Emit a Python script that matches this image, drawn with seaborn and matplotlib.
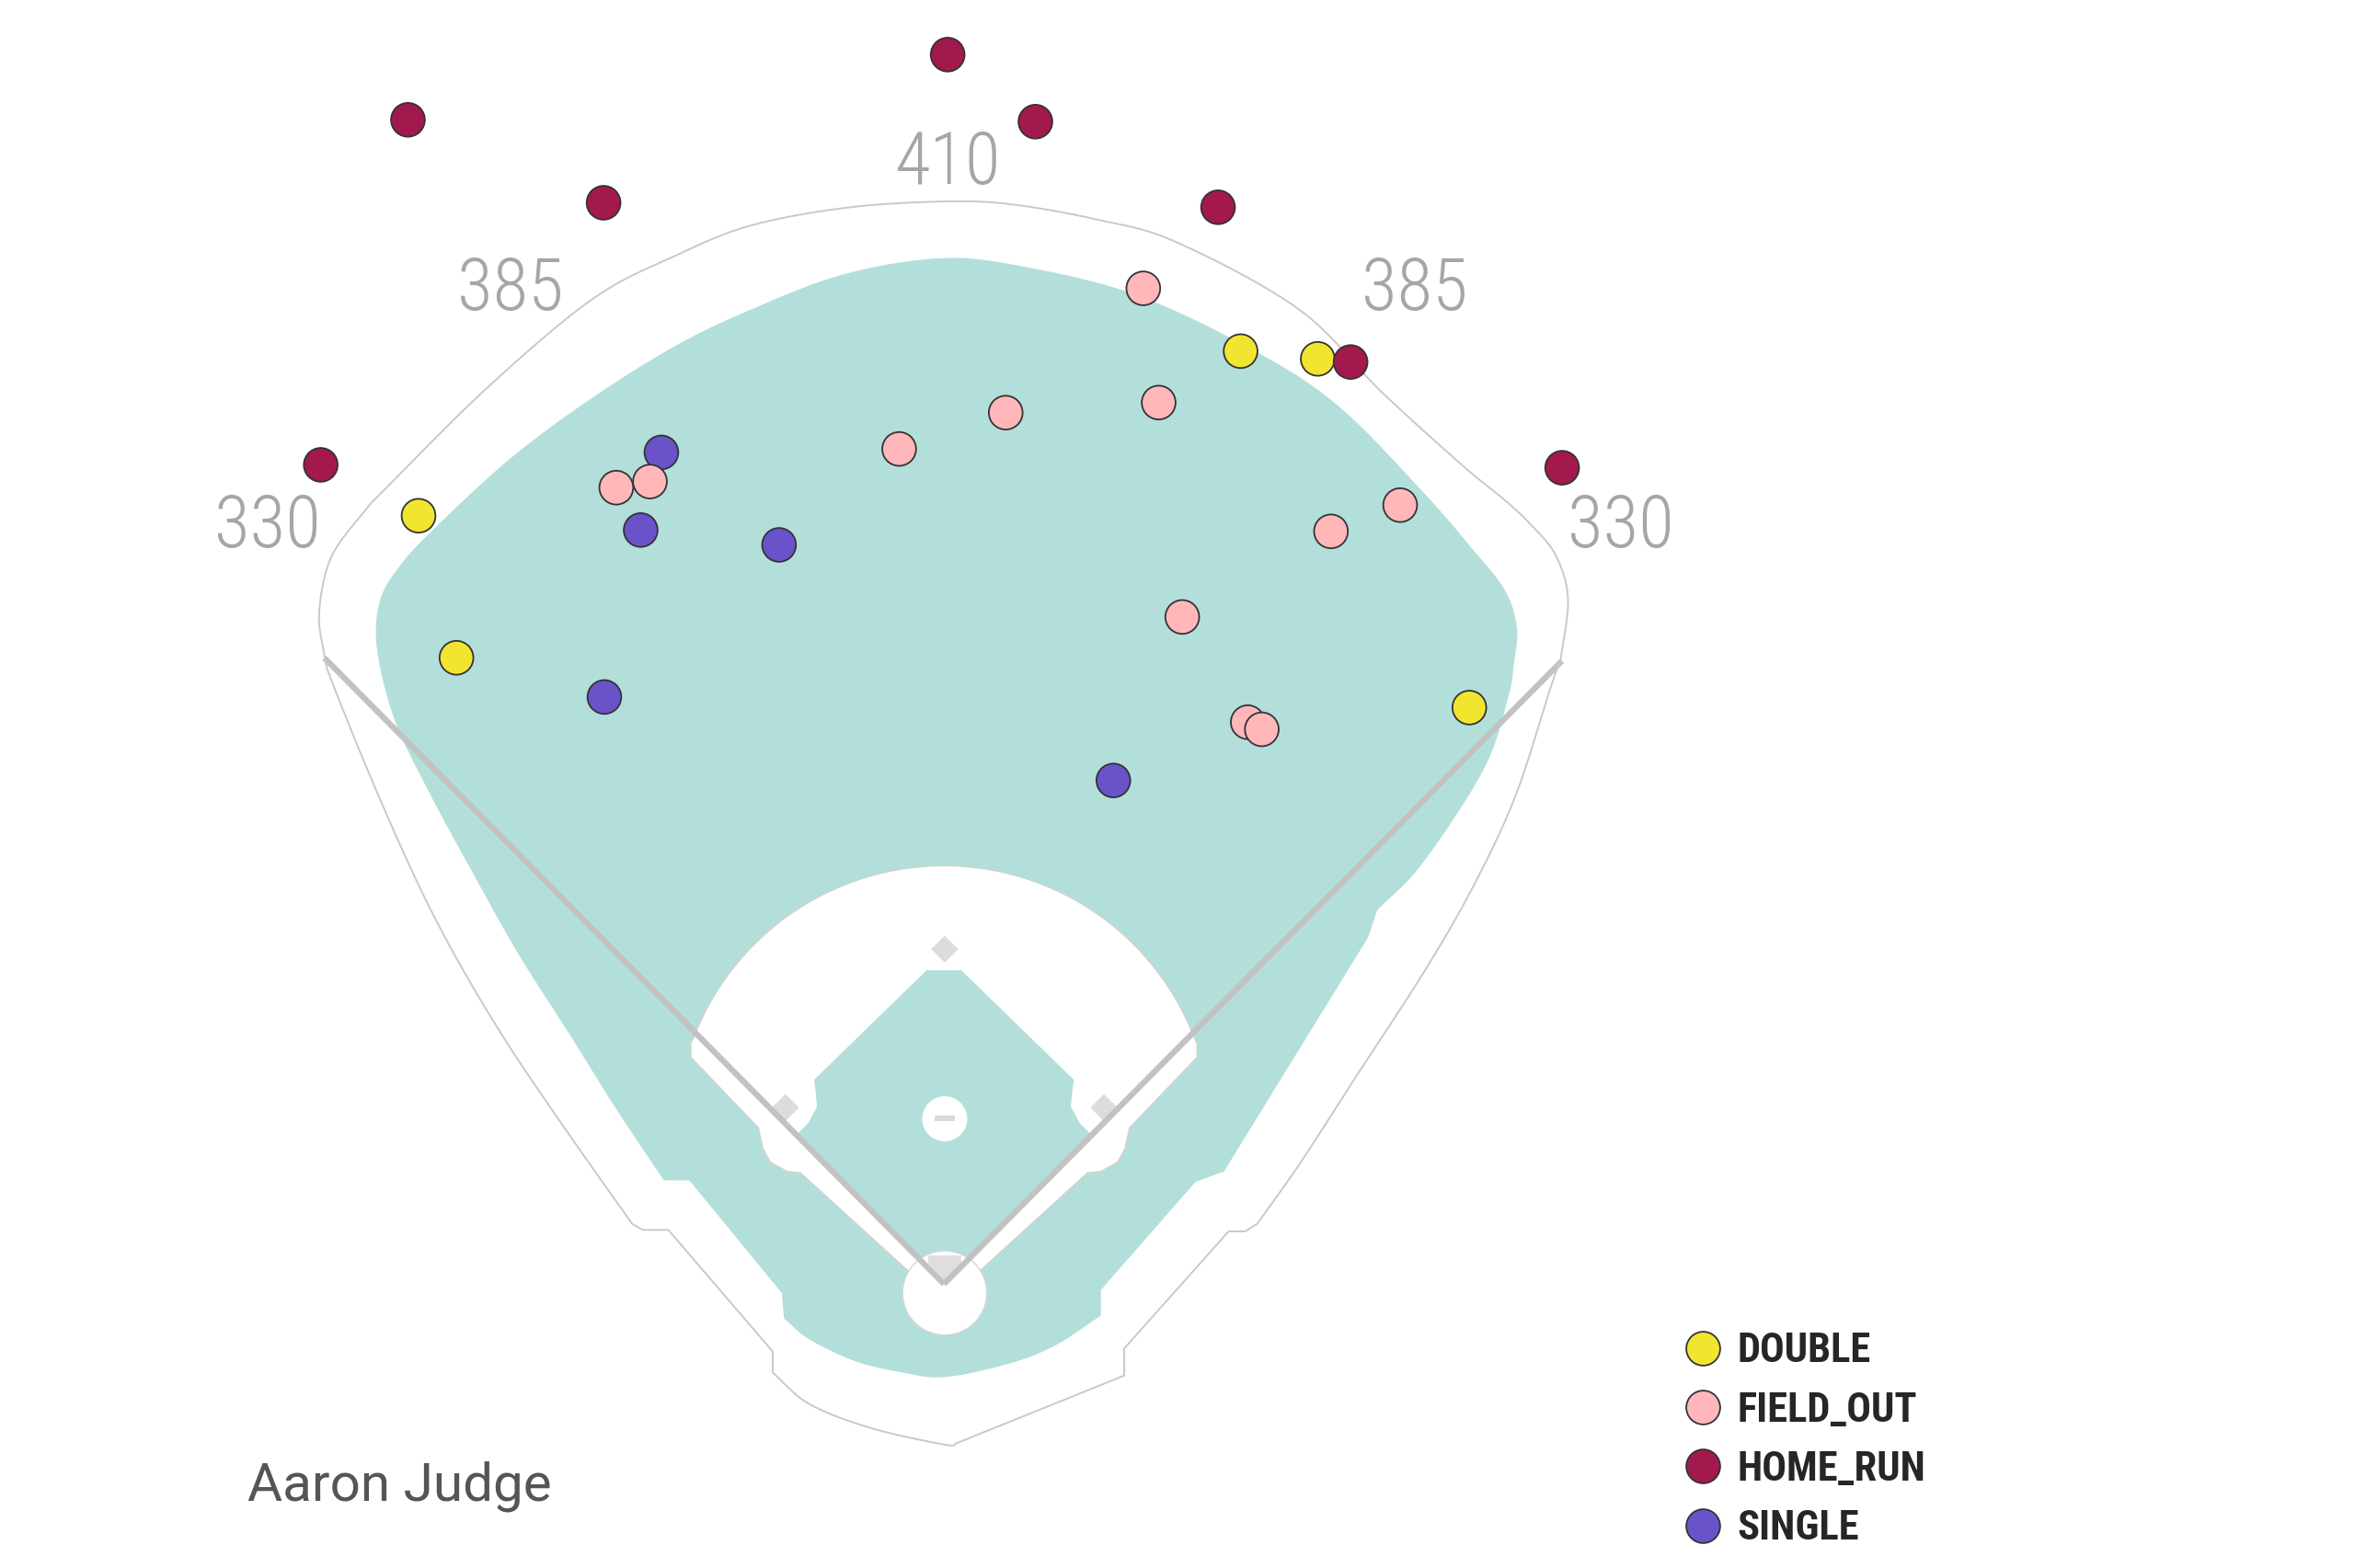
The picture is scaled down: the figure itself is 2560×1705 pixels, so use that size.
import numpy as np
import pandas as pd
import matplotlib
matplotlib.use("Agg")
import matplotlib.pyplot as plt
import seaborn as sns
from matplotlib import font_manager
from matplotlib.font_manager import FontProperties
from matplotlib.patches import Polygon, Circle
from matplotlib.lines import Line2D

# ---------------- data (feet from home plate: x to the right, y toward CF) -------------
single_x = [-106.6, -114.4, -62.2, -128.1, 63.9]
single_y = [313.8, 284.5, 278.9, 221.5, 190.0]

double_x = [-198.2, -183.9, 111.9, 141.0, 198.2]
double_y = [289.9, 236.3, 352.0, 349.1, 217.5]

field_out_x = [75.2, 23.3, 81.0, -16.9, -123.6, -110.9, 172.1, 146.0, 89.9, 114.6, 119.9]
field_out_y = [375.7, 328.8, 332.6, 315.1, 300.5, 302.8, 293.9, 284.0, 251.7, 212.0, 209.3]

home_run_x = [1.4, -202.2, 34.5, -128.4, 103.4, 153.4, -235.1, 233.2]
home_run_y = [463.9, 439.3, 438.6, 408.0, 406.3, 347.9, 309.1, 308.0]

event_order = ["DOUBLE", "FIELD_OUT", "HOME_RUN", "SINGLE"]
event_colors = ["#f2e530", "#ffb7ba", "#a3194d", "#6a52c9"]

wall_labels = ["330", "385", "410", "385", "330"]
player_name = "Aaron Judge"

# ---------------- fonts ----------------
sns.set_theme(style="white")
plt.rcParams["font.family"] = ["Roboto", "DejaVu Sans"]
names = {f.name for f in font_manager.fontManager.ttflist}
cond_fam, cond_stretch = None, "normal"
for c in ["Roboto Condensed", "Liberation Sans Narrow", "Open Sans Condensed",
          "Noto Sans Condensed", "DejaVu Sans Condensed"]:
    if c in names:
        cond_fam = c
        break
if cond_fam is None:
    for f in font_manager.fontManager.ttflist:
        if f.name in ("Roboto", "Noto Sans", "Open Sans", "DejaVu Sans", "Lato", "Inter") and \
                str(f.stretch) in ("condensed", "semi-condensed", "extra-condensed"):
            cond_fam, cond_stretch = f.name, f.stretch
            break
if cond_fam is None:
    cond_fam = "Roboto"

# ---------------- geometry helpers (drawing of the field) ----------------
H0 = (628.5, 855.0)
SC = 1.765


def P(pts):
    a = np.asarray(pts, float)
    return np.column_stack([(a[:, 0] - H0[0]) / SC, (H0[1] - a[:, 1]) / SC])


def smooth(pts, n=14):
    p = np.asarray(pts, float)
    if len(p) < 3:
        return p
    ext = np.vstack([2 * p[0] - p[1], p, 2 * p[-1] - p[-2]])
    out = []
    for i in range(1, len(ext) - 2):
        p0, p1, p2, p3 = ext[i - 1], ext[i], ext[i + 1], ext[i + 2]
        for t in np.linspace(0, 1, n, endpoint=False):
            t2, t3 = t * t, t * t * t
            out.append(0.5 * ((2 * p1) + (-p0 + p2) * t + (2 * p0 - 5 * p1 + 4 * p2 - p3) * t2
                              + (-p0 + 3 * p1 - 3 * p2 + p3) * t3))
    out.append(p[-1])
    return np.array(out)


def mirror(pts):
    return [(2 * H0[0] - x, y) for x, y in pts]


TEAL = "#b3dfdb"
LINE = "#c9c9c9"

fig = plt.figure(figsize=(25.6, 17.05), dpi=100)
ax = fig.add_axes([0, 0, 1, 1])
ax.set_xlim((0 - H0[0]) / SC, (1568 - H0[0]) / SC)
ax.set_ylim((H0[1] - 1044) / SC, H0[1] / SC)
ax.set_aspect("equal")
ax.axis("off")

# big grass area
teal = np.vstack([
    smooth([(442, 786), (410, 738), (380, 690), (345, 635), (318, 587), (287, 530), (263, 480),
            (251, 432), (253, 400), (266, 377), (289, 352), (340, 305), (394, 265), (450, 230),
            (500, 206), (560, 183), (623, 172), (674, 176), (756, 196), (838, 235), (892, 271),
            (947, 327), (980, 365), (1002, 393), (1010, 418), (1008, 442), (1004, 465),
            (988, 512), (947, 575), (917, 606)]),
    [(911, 624), (815, 780), (796, 787), (733, 859)],
    smooth([(733, 876), (702.5, 896), (672, 908), (629, 917), (600, 913.8), (569.6, 906.5),
            (539, 892), (522, 878)]),
    [(520.5, 861), (459, 786)],
])
ax.add_patch(Polygon(P(teal), closed=True, fc=TEAL, ec="none", zorder=1))

# infield dirt (white)
cx, cy, r = 628.5, 755.0, 178.5
a0 = np.arcsin((cy - 690) / r)
t = np.linspace(np.pi - a0, a0, 120)
arc = np.column_stack([cx + r * np.cos(t), cy - r * np.sin(t)])
left_side = [(606.5, 848), (533, 781), (524, 780), (513, 774), (508, 765), (505, 751),
             (460, 704), (460, 694.6)]
right_side = mirror(left_side)[::-1]
dirt = np.vstack([left_side, arc, right_side])
ax.add_patch(Polygon(P(dirt), closed=True, fc="white", ec="#d2d2d2", lw=1.0, zorder=2))

# inner grass diamond
diamond = [(628.5, 855), (530, 756), (538, 748), (544, 737), (543, 726), (542, 719),
           (617, 646), (640, 646), (715, 719), (714, 726), (713, 737), (719, 748), (727, 756)]
ax.add_patch(Polygon(P(diamond), closed=True, fc=TEAL, ec="none", zorder=3))

# home circle, mound, rubber, plate, bases
hc = P([(629, 861)])[0]
ax.add_patch(Circle(hc, 28 / SC, fc="white", ec="#d6d6d6", lw=1.0, zorder=4))
mc = P([(629, 745)])[0]
ax.add_patch(Circle(mc, 15 / SC, fc="white", ec="none", zorder=4))
ax.add_patch(Polygon(P([(622, 743), (636, 743), (636, 746.5), (622, 746.5)]), closed=True,
                     fc="#d9d9d9", ec="none", zorder=5))
ax.add_patch(Polygon(P([(618, 836), (640, 836), (640, 841), (629, 853), (618, 841)]),
                     closed=True, fc="#dedede", ec="none", zorder=5))
for bx, by in [(629, 632), (523, 737.5), (735, 737.5)]:
    d = 9
    ax.add_patch(Polygon(P([(bx, by - d), (bx + d, by), (bx, by + d), (bx - d, by)]),
                         closed=True, fc="#dcdcdc", ec="none", zorder=5))

# foul lines
for end in [(216, 438), (1040, 440)]:
    seg = P([H0, end])
    ax.plot(seg[:, 0], seg[:, 1], color="#c2c2c2", lw=4.6, solid_capstyle="butt", zorder=6)

# outer boundary line
outer = np.vstack([
    smooth([(216, 437), (212.5, 408), (220.5, 371), (243, 340), (256, 326), (324.5, 258),
            (394.5, 199), (450, 170), (500, 150), (565, 138), (630, 134), (674, 136),
            (730, 146), (783, 161), (865, 206), (920, 261), (974.5, 310.5), (1002, 333),
            (1020, 350), (1036, 370), (1044, 399), (1039, 440)]),
    smooth([(1039, 440), (1033, 456), (1009, 530), (980, 592), (947, 649), (906, 712),
            (866, 774), (837, 815)]),
    [(829, 820), (818, 820), (748.5, 898), (748.5, 916), (637, 961)],
    smooth([(637, 961), (629, 962), (580, 951), (539, 935), (514.5, 914)]),
    [(514.5, 900), (445, 819), (428, 819)],
    smooth([(421, 815), (380, 757), (339, 696.6), (305, 640), (277.6, 587), (247, 518),
            (220.5, 452.6), (216, 437)]),
])
op = P(outer)
ax.plot(op[:, 0], op[:, 1], color=LINE, lw=1.4, zorder=6)

# wall distance labels
label_pos = P([(178, 351), (340, 193), (631, 109), (942, 193), (1079, 351)])
for (lx, ly), txt in zip(label_pos, wall_labels):
    ax.text(lx, ly, txt, ha="center", va="center", fontsize=57, color="#a6a6a6",
            family=[cond_fam, "DejaVu Sans"], stretch=cond_stretch, weight="light", zorder=7)

# ---------------- hits ----------------
frames = [
    pd.DataFrame({"x": single_x, "y": single_y, "events": "SINGLE"}),
    pd.DataFrame({"x": double_x, "y": double_y, "events": "DOUBLE"}),
    pd.DataFrame({"x": field_out_x, "y": field_out_y, "events": "FIELD_OUT"}),
    pd.DataFrame({"x": home_run_x, "y": home_run_y, "events": "HOME_RUN"}),
]
df = pd.concat(frames, ignore_index=True)
palette = dict(zip(event_order, event_colors))
sns.scatterplot(data=df, x="x", y="y", hue="events", hue_order=event_order, palette=palette,
                s=700, edgecolor="#333333", linewidth=1.3, legend=False, ax=ax, zorder=10)
ax.set_xlabel("")
ax.set_ylabel("")

handles = [Line2D([], [], ls="none", marker="o", markersize=26.5, markerfacecolor=palette[e],
                  markeredgecolor="#333333", markeredgewidth=1.3) for e in event_order]
leg_font = FontProperties(family=[cond_fam, "DejaVu Sans"], stretch=cond_stretch,
                          weight="bold", size=32)
leg = ax.legend(handles, event_order, loc="upper left", bbox_to_anchor=(0.7148, 0.1505),
                bbox_transform=fig.transFigure, frameon=False, borderpad=0, borderaxespad=0,
                handlelength=0.95, handletextpad=0.36, labelspacing=0.5, prop=leg_font)

fig.text(269 / 2560, (1705 - 1631) / 1705, player_name, ha="left", va="baseline",
         fontsize=42, color="#555555", family=["Roboto", "DejaVu Sans"])

fig.savefig("out.png", dpi=100, facecolor="white")
